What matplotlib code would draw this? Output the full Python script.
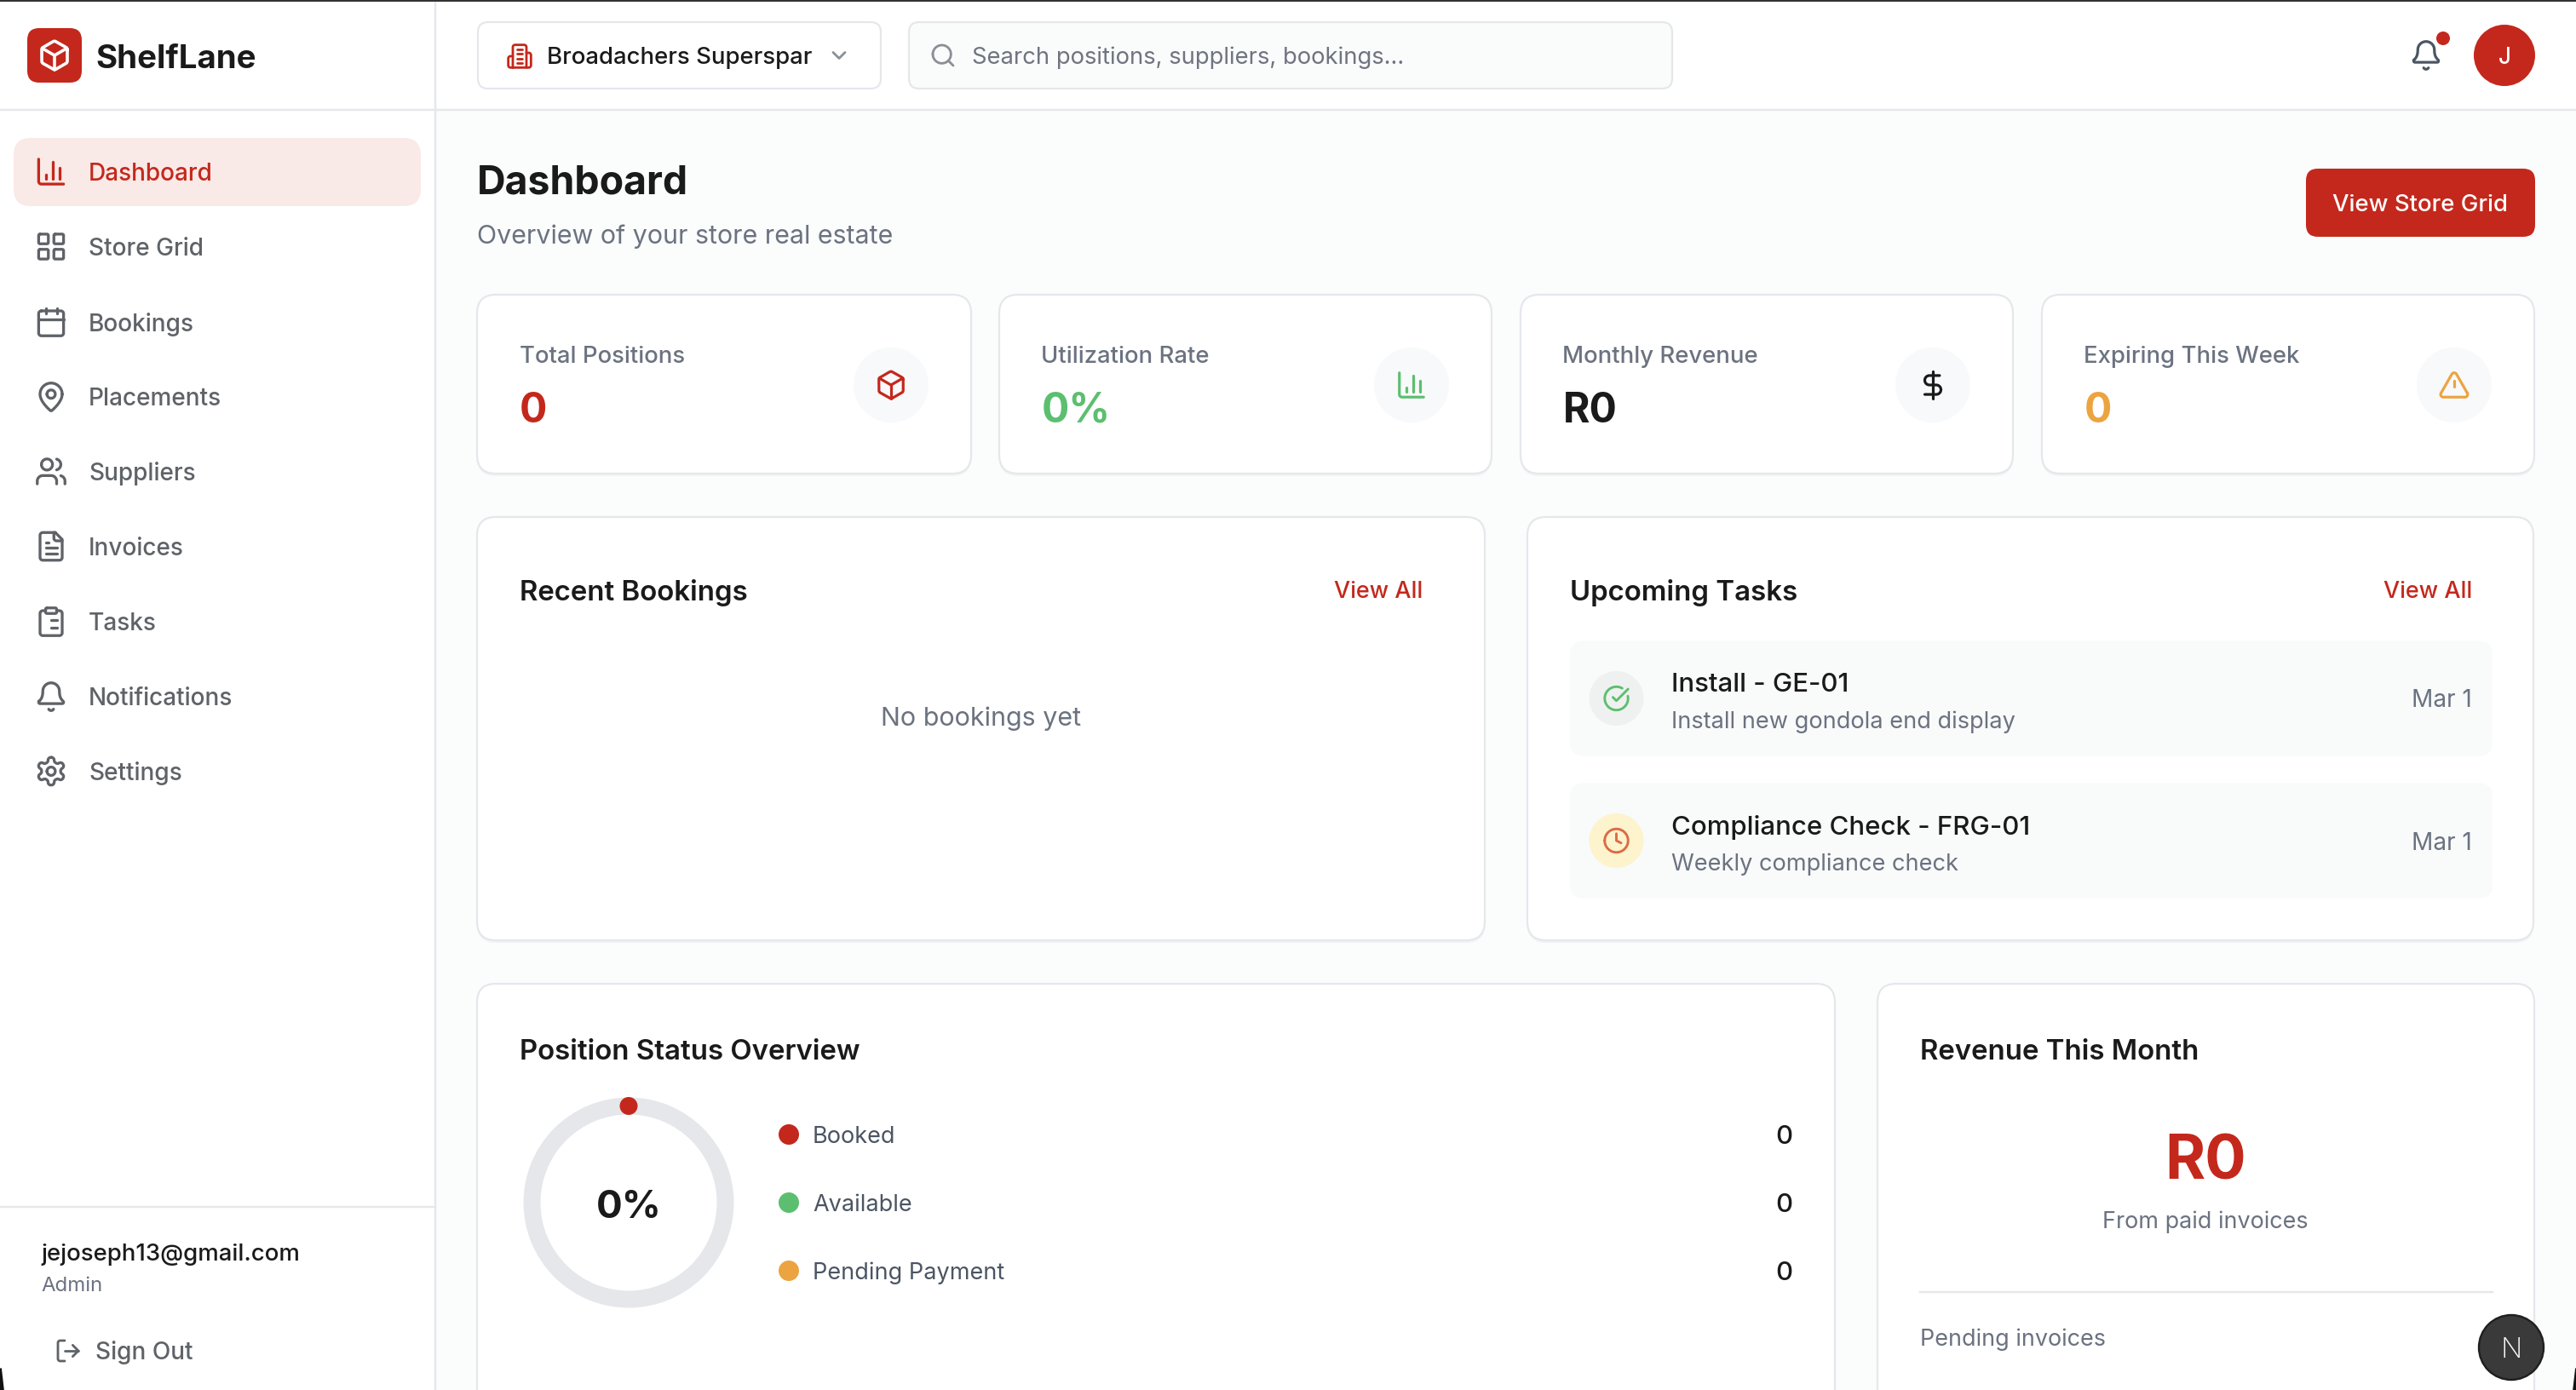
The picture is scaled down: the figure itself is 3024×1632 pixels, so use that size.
import re
import math
import numpy as np
import matplotlib
matplotlib.use("Agg")
import matplotlib.pyplot as plt
from matplotlib.patches import FancyBboxPatch, Circle, Wedge, Rectangle

plt.rcParams['font.family'] = ['Inter', 'DejaVu Sans']

# ── Data ──
nav_items = ["Dashboard", "Store Grid", "Bookings", "Placements", "Suppliers",
             "Invoices", "Tasks", "Notifications", "Settings"]
stat_labels = ["Total Positions", "Utilization Rate", "Monthly Revenue", "Expiring This Week"]
stat_values = ["0", "0%", "R0", "0"]
status_labels = ["Booked", "Available", "Pending Payment"]
status_counts = [0, 0, 0]
booked_share = 0.0
task_titles = ["Install - GE-01", "Compliance Check - FRG-01"]
task_subs = ["Install new gondola end display", "Weekly compliance check"]
task_dates = ["Mar 1", "Mar 1"]

RED = "#c4281c"
GREEN = "#5cbf70"
ORANGE = "#eca441"
DARK = "#1a1a1a"
GREY = "#6b7280"
NAV = "#5f6368"
LINE = "#e5e7eb"

# ── Lucide style icons ──
ICONS = {
    "chart": ["M3 3v16a2 2 0 0 0 2 2h16", "M18 17V9", "M13 17V5", "M8 17v-3"],
    "grid": ["M4 3h5a1 1 0 0 1 1 1v5a1 1 0 0 1-1 1H4a1 1 0 0 1-1-1V4a1 1 0 0 1 1-1z",
             "M15 3h5a1 1 0 0 1 1 1v5a1 1 0 0 1-1 1h-5a1 1 0 0 1-1-1V4a1 1 0 0 1 1-1z",
             "M15 14h5a1 1 0 0 1 1 1v5a1 1 0 0 1-1 1h-5a1 1 0 0 1-1-1v-5a1 1 0 0 1 1-1z",
             "M4 14h5a1 1 0 0 1 1 1v5a1 1 0 0 1-1 1H4a1 1 0 0 1-1-1v-5a1 1 0 0 1 1-1z"],
    "calendar": ["M8 2v4", "M16 2v4", "M5 4h14a2 2 0 0 1 2 2v14a2 2 0 0 1-2 2H5a2 2 0 0 1-2-2V6a2 2 0 0 1 2-2z", "M3 10h18"],
    "pin": ["M20 10c0 4.993-5.539 10.193-7.399 11.799a1 1 0 0 1-1.202 0C9.539 20.193 4 14.993 4 10a8 8 0 0 1 16 0",
            "M9 10a3 3 0 1 0 6 0a3 3 0 1 0-6 0"],
    "users": ["M16 21v-2a4 4 0 0 0-4-4H6a4 4 0 0 0-4 4v2", "M16 3.128a4 4 0 0 1 0 7.744",
              "M22 21v-2a4 4 0 0 0-3-3.87", "M5 7a4 4 0 1 0 8 0a4 4 0 1 0-8 0"],
    "file": ["M15 2H6a2 2 0 0 0-2 2v16a2 2 0 0 0 2 2h12a2 2 0 0 0 2-2V7z", "M14 2v4a2 2 0 0 0 2 2h4",
             "M10 9H8", "M16 13H8", "M16 17H8"],
    "tasks": ["M9 2h6a1 1 0 0 1 1 1v2a1 1 0 0 1-1 1H9a1 1 0 0 1-1-1V3a1 1 0 0 1 1-1z",
              "M16 4h2a2 2 0 0 1 2 2v14a2 2 0 0 1-2 2H6a2 2 0 0 1-2-2V6a2 2 0 0 1 2-2h2",
              "M12 11h4", "M12 16h4", "M8 11h.01", "M8 16h.01"],
    "bell": ["M10.268 21a2 2 0 0 0 3.464 0",
             "M3.262 15.326A1 1 0 0 0 4 17h16a1 1 0 0 0 .74-1.673C19.41 13.956 18 12.499 18 8A6 6 0 0 0 6 8c0 4.499-1.411 5.956-2.738 7.326"],
    "gear": ["M12.22 2h-.44a2 2 0 0 0-2 2v.18a2 2 0 0 1-1 1.73l-.43.25a2 2 0 0 1-2 0l-.15-.08a2 2 0 0 0-2.73.73l-.22.38a2 2 0 0 0 .73 2.73l.15.1a2 2 0 0 1 1 1.72v.51a2 2 0 0 1-1 1.74l-.15.09a2 2 0 0 0-.73 2.73l.22.38a2 2 0 0 0 2.73.73l.15-.08a2 2 0 0 1 2 0l.43.25a2 2 0 0 1 1 1.73V20a2 2 0 0 0 2 2h.44a2 2 0 0 0 2-2v-.18a2 2 0 0 1 1-1.73l.43-.25a2 2 0 0 1 2 0l.15.08a2 2 0 0 0 2.73-.73l.22-.39a2 2 0 0 0-.73-2.73l-.15-.08a2 2 0 0 1-1-1.74v-.5a2 2 0 0 1 1-1.74l.15-.09a2 2 0 0 0 .73-2.73l-.22-.38a2 2 0 0 0-2.73-.73l-.15.08a2 2 0 0 1-2 0l-.43-.25a2 2 0 0 1-1-1.73V4a2 2 0 0 0-2-2z",
             "M9 12a3 3 0 1 0 6 0a3 3 0 1 0-6 0"],
    "logout": ["M16 17l5-5-5-5", "M21 12H9", "M9 21H5a2 2 0 0 1-2-2V5a2 2 0 0 1 2-2h4"],
    "box": ["M21 8a2 2 0 0 0-1-1.73l-7-4a2 2 0 0 0-2 0l-7 4A2 2 0 0 0 3 8v8a2 2 0 0 0 1 1.73l7 4a2 2 0 0 0 2 0l7-4A2 2 0 0 0 21 16Z",
            "M3.3 7l8.7 5 8.7-5", "M12 22V12"],
    "building": ["M6 22V4a2 2 0 0 1 2-2h8a2 2 0 0 1 2 2v18Z", "M6 12H4a2 2 0 0 0-2 2v6a2 2 0 0 0 2 2h2",
                 "M18 9h2a2 2 0 0 1 2 2v9a2 2 0 0 1-2 2h-2", "M10 6h4", "M10 10h4", "M10 14h4", "M10 18h4"],
    "chevron": ["M6 9l6 6 6-6"],
    "search": ["M3 11a8 8 0 1 0 16 0a8 8 0 1 0-16 0", "M21 21l-4.35-4.35"],
    "dollar": ["M12 2v20", "M17 5H9.5a3.5 3.5 0 0 0 0 7h5a3.5 3.5 0 0 1 0 7H6"],
    "alert": ["M21.73 18l-8-14a2 2 0 0 0-3.48 0l-8 14A2 2 0 0 0 4 21h16a2 2 0 0 0 1.73-3", "M12 9v4", "M12 17h.01"],
    "check": ["M21.801 10A10 10 0 1 1 17 3.335", "M9 11l3 3L22 4"],
    "clock": ["M2 12a10 10 0 1 0 20 0a10 10 0 1 0-20 0", "M12 6v6l4 2"],
}


def arc_points(x0, y0, r, large, sweep, x1, y1):
    dx, dy = (x0 - x1) / 2, (y0 - y1) / 2
    d = math.hypot(dx, dy)
    if d == 0:
        return []
    r = max(r, d)
    k = math.sqrt(max(0, r * r - d * d)) / d
    if large == sweep:
        k = -k
    cx = k * dy + (x0 + x1) / 2
    cy = -k * dx + (y0 + y1) / 2
    t0 = math.atan2(y0 - cy, x0 - cx)
    t1 = math.atan2(y1 - cy, x1 - cx)
    dt = t1 - t0
    if sweep and dt < 0:
        dt += 2 * math.pi
    if not sweep and dt > 0:
        dt -= 2 * math.pi
    return [(cx + r * math.cos(t0 + dt * i / 24), cy + r * math.sin(t0 + dt * i / 24)) for i in range(1, 25)]


def parse_path(d):
    toks = re.findall(r'[MmLlHhVvCcAaZz]|[-+]?\d*\.?\d+', d)
    pts, i, cmd = [], 0, None
    x, y = 0.0, 0.0
    start = None

    def nxt():
        nonlocal i
        i += 1
        return float(toks[i - 1])

    while i < len(toks):
        if toks[i].isalpha():
            cmd = toks[i]
            i += 1
            if cmd in "Zz":
                pts.append(start)
                continue
        rel = cmd.islower()
        c = cmd.upper()
        ox, oy = (x, y) if rel else (0, 0)
        if c in "ML":
            x, y = nxt() + ox, nxt() + oy
            pts.append((x, y))
            if c == "M":
                start = (x, y)
                cmd = "l" if rel else "L"
        elif c == "H":
            x = nxt() + ox
            pts.append((x, y))
        elif c == "V":
            y = nxt() + oy
            pts.append((x, y))
        elif c == "C":
            x1, y1, x2, y2 = nxt() + ox, nxt() + oy, nxt() + ox, nxt() + oy
            ex, ey = nxt() + ox, nxt() + oy
            for t in np.linspace(0, 1, 16)[1:]:
                u = 1 - t
                pts.append((u**3 * x + 3 * u * u * t * x1 + 3 * u * t * t * x2 + t**3 * ex,
                            u**3 * y + 3 * u * u * t * y1 + 3 * u * t * t * y2 + t**3 * ey))
            x, y = ex, ey
        elif c == "A":
            r = nxt()
            nxt()
            nxt()
            large, sweep = int(nxt()), int(nxt())
            ex, ey = nxt() + ox, nxt() + oy
            pts += arc_points(x, y, r, large, sweep, ex, ey)
            x, y = ex, ey
    return pts


fig = plt.figure(figsize=(15.12, 8.16), dpi=200)
ax = fig.add_axes([0, 0, 1, 1])
ax.set_xlim(0, 3024)
ax.set_ylim(1632, 0)
ax.axis('off')
fig.patch.set_facecolor("#fbfcfc")


def px(n):
    return n * 72 / 200


def icon(name, cx, cy, size, color, lw=3.4, z=6):
    s = size / 24
    for d in ICONS[name]:
        pts = np.array(parse_path(d))
        ax.plot(cx + (pts[:, 0] - 12) * s, cy + (pts[:, 1] - 12) * s, color=color, lw=px(lw),
                solid_capstyle='round', solid_joinstyle='round', zorder=z)


def box(x0, y0, x1, y1, r, face, edge="none", lw=2.2, z=2):
    p = FancyBboxPatch((x0 + r, y0 + r), x1 - x0 - 2 * r, y1 - y0 - 2 * r,
                       boxstyle=f"round,pad={r},rounding_size={r}", fc=face, ec=edge, lw=px(lw), zorder=z)
    ax.add_patch(p)


def label(x, y, s, size, color=DARK, weight='normal', ha='left'):
    ax.text(x, y, s, fontsize=px(size), color=color, fontweight=weight, ha=ha, va='center_baseline', zorder=7)


def dot(x, y, r, color, z=5):
    ax.add_patch(Circle((x, y), r, fc=color, ec='none', zorder=z))


def card(x0, y0, x1, y1):
    # soft shadow under the border
    box(x0, y0 + 3, x1, y1 + 3, 22, "#f1f3f4", z=1.5)
    box(x0, y0, x1, y1, 22, "white", LINE)


# ── Chrome: sidebar and header ──
ax.add_patch(Rectangle((0, 0), 511, 1632, fc="white", ec='none', zorder=1))
ax.add_patch(Rectangle((0, 0), 3024, 129, fc="white", ec='none', zorder=1))
ax.plot([511, 511], [0, 1632], color=LINE, lw=px(2.4), zorder=3)
ax.plot([0, 3024], [129, 129], color=LINE, lw=px(2.4), zorder=3)
ax.plot([0, 511], [1417, 1417], color=LINE, lw=px(2.4), zorder=3)
ax.add_patch(Rectangle((0, 0), 3024, 2, fc="#333333", ec='none', zorder=9))

box(32, 33, 96, 97, 14, RED)
icon("box", 64, 65, 40, "white", 3.6)
label(112, 66, "ShelfLane", 38.5, DARK, 'bold')

# store selector and search box
box(561, 26, 1034, 104, 12, "white", LINE)
icon("building", 610, 66, 32, RED, 2.8)
label(642, 65, "Broadachers Superspar", 27.6, DARK, 'medium')
icon("chevron", 985, 65, 28, "#8b8f96", 2.8)
box(1067, 26, 1963, 104, 12, "#fafbfb", LINE)
icon("search", 1107, 65, 32, "#8b8f96", 2.8)
label(1141, 65, "Search positions, suppliers, bookings...", 27.4, "#6f7480")

icon("bell", 2848, 65, 39, "#4b5563", 3.2)
dot(2868, 45, 8, RED, 8)
dot(2940, 65, 36, RED)
label(2940, 65, "J", 26, "white", 'medium', 'center')

# ── Sidebar nav ──
nav_icons = ["chart", "grid", "calendar", "pin", "users", "file", "tasks", "bell", "gear"]
nav_y = [201.5, 289.5, 378, 466, 553.5, 641.5, 730, 818, 905.5]
box(16, 162, 494, 242, 20, "#f9e9e7")
for i, (name, ic, y) in enumerate(zip(nav_items, nav_icons, nav_y)):
    c = RED if i == 0 else NAV
    icon(ic, 60, y, 39, c, 3.3)
    label(104, y, name, 28, c, 'medium')

label(48, 1470, "jejoseph13@gmail.com", 27.6, DARK, 'medium')
label(48, 1507, "Admin", 24, GREY)
icon("logout", 80, 1586, 32, NAV, 2.8)
label(112, 1585.5, "Sign Out", 28, NAV, 'medium')

# ── Page heading ──
label(560, 211, "Dashboard", 46.5, DARK, 'bold')
label(560, 275, "Overview of your store real estate", 30.4, GREY)
box(2707, 198, 2976, 278, 14, RED)
label(2841.5, 238, "View Store Grid", 27.6, "white", 'medium', 'center')

# ── Stat cards ──
stat_x0 = [560, 1173, 1785, 2397]
stat_x1 = [1140, 1751, 2363, 2975]
stat_icon = ["box", "chart", "dollar", "alert"]
stat_col = [RED, GREEN, DARK, ORANGE]
for x0, x1, lab, val, ic, col in zip(stat_x0, stat_x1, stat_labels, stat_values, stat_icon, stat_col):
    card(x0, 346, x1, 556)
    label(x0 + 49.5, 416, lab, 27.5, GREY, 'medium')
    label(x0 + 49.5, 478, val, 48, col, 'bold')
    dot(x1 - 94, 452, 44, "#f8f9fa", 4)
    icon(ic, x1 - 94, 452, 38, col, 3.2)

# ── Recent bookings ──
card(560, 607, 1743, 1104)
label(610, 692, "Recent Bookings", 33, DARK, 'semibold')
label(1670, 692, "View All", 27, RED, 'medium', 'right')
label(1152, 841, "No bookings yet", 30.5, GREY, 'normal', 'center')

# ── Upcoming tasks ──
card(1793, 607, 2974, 1104)
label(1843, 692, "Upcoming Tasks", 33, DARK, 'semibold')
label(2902, 692, "View All", 27, RED, 'medium', 'right')
row_y0 = [752.5, 919.5]
row_y1 = [887.5, 1054.5]
row_fill = ["#eff1f0", "#fdf3cd"]
row_icon = ["check", "clock"]
row_col = [GREEN, "#dc6b45"]
for y0, y1, t, s, d, f, ic, c in zip(row_y0, row_y1, task_titles, task_subs, task_dates, row_fill, row_icon, row_col):
    box(1843, y0, 2926, y1, 16, "#f9fafa", z=3)
    yc = (y0 + y1) / 2
    dot(1897.5, yc, 32, f, 4)
    icon(ic, 1897.5, yc, 33, c, 2.9)
    label(1962, yc - 19, t, 31.2, DARK, 'medium')
    label(1962, yc + 25, s, 27.2, GREY)
    label(2902, yc, d, 28, GREY, 'normal', 'right')

# ── Position status donut ──
card(560, 1155, 2154, 1700)
label(610.5, 1232, "Position Status Overview", 33, DARK, 'semibold')
donut_x, donut_y, donut_r = 738, 1412, 123.5
ax.add_patch(Wedge((donut_x, donut_y), donut_r, 0, 360, width=20, fc=LINE, ec='none', zorder=4))
# booked arc has no length at 0%, only its round cap is visible
ang = math.radians(360 * booked_share - 90)
dot(donut_x + (donut_r - 10) * math.cos(ang), donut_y + (donut_r - 10) * math.sin(ang), 10.5, RED)
label(donut_x, donut_y + 1, f"{booked_share:.0%}", 45.5, DARK, 'bold', 'center')
status_y = [1332, 1412, 1492]
status_col = [RED, GREEN, ORANGE]
for y, name, n, c in zip(status_y, status_labels, status_counts, status_col):
    dot(926, y, 12, c)
    label(954, y, name, 27.1, "#4b5563")
    label(2104, y, str(n), 31, DARK, 'medium', 'right')

# ── Revenue ──
card(2204, 1155, 2975, 1700)
label(2254, 1232, "Revenue This Month", 33, DARK, 'semibold')
label(2589, 1358, "R0", 72, RED, 'bold', 'center')
label(2589, 1432, "From paid invoices", 27, GREY, 'normal', 'center')
ax.plot([2254, 2926], [1517, 1517], color=LINE, lw=px(2.4), zorder=4)
label(2254, 1570, "Pending invoices", 27, GREY)

# dev badge
dot(2948, 1582, 38, "#3a3a3a", 8)
ax.add_patch(Circle((2948, 1582), 38, fc='none', ec="#1f1f1f", lw=px(2.4), zorder=8))
ax.text(2948, 1582, "N", fontsize=px(33), color="white", fontweight='light', ha='center', va='center_baseline', zorder=9)

# rounded window corners at the bottom
for xs in ([0, 0, 3], [3024, 3024, 3021]):
    ax.fill(xs, [1606, 1632, 1632], color="#111111", zorder=9)

fig.savefig("out.png", dpi=200, facecolor=fig.get_facecolor())
